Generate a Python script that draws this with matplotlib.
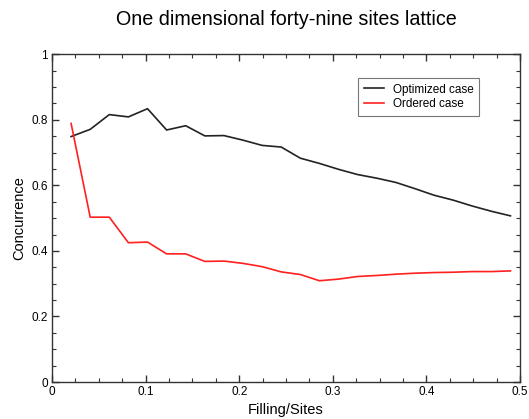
import numpy as np
import matplotlib
matplotlib.use("Agg")
import matplotlib.pyplot as plt
from matplotlib.ticker import MultipleLocator, FuncFormatter

plt.rcParams['font.family'] = ['Liberation Sans', 'DejaVu Sans']

# Filling fraction n/49 for n = 1..24
n_particles = np.arange(1, 25)
filling = n_particles / 49.0

optimized = [0.749, 0.771, 0.816, 0.809, 0.834, 0.769, 0.782, 0.751,
             0.752, 0.738, 0.722, 0.717, 0.683, 0.667, 0.649, 0.633,
             0.622, 0.609, 0.590, 0.570, 0.555, 0.537, 0.521, 0.507]
ordered = [0.789, 0.503, 0.503, 0.425, 0.427, 0.391, 0.391, 0.368,
           0.369, 0.362, 0.352, 0.336, 0.328, 0.309, 0.314, 0.322,
           0.325, 0.329, 0.332, 0.334, 0.335, 0.337, 0.337, 0.339]

fig = plt.figure(figsize=(5.29, 4.19), dpi=100)
ax = fig.add_axes([52/529, (419-382)/419, 468/529, 327.7/419])

ax.plot(filling, optimized, color='#222222', lw=1.2, label='Optimized case')
ax.plot(filling, ordered, color='#ff2020', lw=1.2, label='Ordered case')

ax.set_xlim(0, 0.5)
ax.set_ylim(0, 1)
ax.xaxis.set_major_locator(MultipleLocator(0.1))
ax.xaxis.set_minor_locator(MultipleLocator(0.025))
ax.yaxis.set_major_locator(MultipleLocator(0.2))
ax.yaxis.set_minor_locator(MultipleLocator(0.05))
ax.xaxis.set_major_formatter(FuncFormatter(lambda v, p: f"{v:g}"))
ax.yaxis.set_major_formatter(FuncFormatter(lambda v, p: f"{v:g}"))

ax.tick_params(which='both', direction='in', top=True, right=True,
               labelsize=8.5, color='#333333', pad=3)
ax.tick_params(which='major', length=5, width=1)
ax.tick_params(which='minor', length=3, width=0.8)
for s in ax.spines.values():
    s.set_linewidth(1.0)
    s.set_color('#333333')

ax.set_xlabel('Filling/Sites', fontsize=10.5, labelpad=3.5)
ax.set_ylabel('Concurrence', fontsize=10.5, labelpad=4)
fig.suptitle('One dimensional forty-nine sites lattice', fontsize=14.2,
             x=(52+520)/2/529, y=1 - 10/419, va='top')

leg = ax.legend(loc='upper right', bbox_to_anchor=(0.913, 0.927),
                fontsize=8.5, frameon=True, fancybox=False,
                handlelength=1.7, borderpad=0.45, labelspacing=0.25,
                handletextpad=0.8, borderaxespad=0)
leg.get_frame().set_edgecolor('#555555')
leg.get_frame().set_linewidth(0.8)

fig.savefig('out.png', dpi=100)
